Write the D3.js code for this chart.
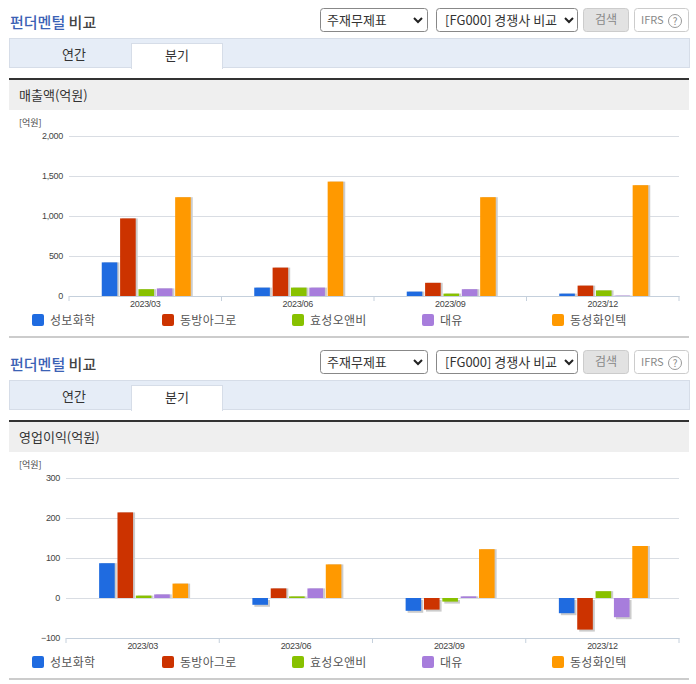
<!DOCTYPE html>
<html>
<head>
<meta charset="utf-8">
<script src="https://cdn.jsdelivr.net/npm/d3@7"></script>
<style>
html, body { margin: 0; padding: 0; background: #fff; }
text { font-family: "Noto Sans CJK KR", "Noto Sans", sans-serif; }
.tick text { font-family: "Liberation Sans", sans-serif; letter-spacing: -0.3px; }
</style>
</head>
<body>
<div id="chart"></div>
<script>
// Data
const periods = ["2023/03", "2023/06", "2023/09", "2023/12"];
const companies = ["성보화학", "동방아그로", "효성오앤비", "대유", "동성화인텍"];
const colors = ["#1f6be0", "#cc3300", "#88c100", "#a77ddc", "#ff9900"];

const sales2023_03 = [420, 970, 85, 95, 1235];
const sales2023_06 = [105, 355, 105, 105, 1430];
const sales2023_09 = [55, 165, 30, 85, 1235];
const sales2023_12 = [30, 130, 70, 5, 1385];

const profit2023_03 = [87, 214, 6, 9, 36];
const profit2023_06 = [-17, 24, 4, 24, 84];
const profit2023_09 = [-32, -29, -9, 4, 122];
const profit2023_12 = [-38, -79, 17, -48, 130];

const salesTicks = [0, 500, 1000, 1500, 2000];
const profitTicks = [-100, 0, 100, 200, 300];

const width = 696;
const height = 684;

const svg = d3.select("#chart")
    .append("svg")
    .attr("width", width)
    .attr("height", height)
    .style("display", "block");

function drawButton(g, x, y, w, h, fill, stroke) {
    g.append("rect")
        .attr("x", x + 0.5).attr("y", y + 0.5)
        .attr("width", w).attr("height", h)
        .attr("rx", 3)
        .attr("fill", fill)
        .attr("stroke", stroke);
}

function drawChevron(g, x, y) {
    g.append("path")
        .attr("d", `M${x - 4},${y - 2} L${x},${y + 2} L${x + 4},${y - 2}`)
        .attr("fill", "none")
        .attr("stroke", "#222")
        .attr("stroke-width", 2);
}

function drawPanel(top, label, rows, ticks, left, domain) {
    const g = svg.append("g").attr("transform", `translate(0,${top})`);

    // heading
    const title = g.append("text")
        .attr("x", 10).attr("y", 28)
        .attr("font-size", 15)
        .attr("font-weight", 500);
    title.append("tspan").attr("fill", "#3b62b5").text("펀더멘털");
    title.append("tspan").attr("fill", "#444").text(" 비교");

    // toolbar
    drawButton(g, 320, 8, 107, 23, "#fff", "#888");
    g.append("text").attr("x", 327).attr("y", 25).attr("font-size", 13).attr("fill", "#333").text("주재무제표");
    drawChevron(g, 418, 20);

    drawButton(g, 436, 8, 141, 23, "#fff", "#888");
    g.append("text").attr("x", 445).attr("y", 25).attr("font-size", 13).attr("fill", "#333").text("[FG000] 경쟁사 비교");
    drawChevron(g, 569, 20);

    drawButton(g, 583, 8, 45, 23, "#e2e2e2", "#ccc");
    g.append("text").attr("x", 606).attr("y", 24).attr("font-size", 12).attr("fill", "#888")
        .attr("text-anchor", "middle").text("검색");

    drawButton(g, 634, 8, 54, 23, "#fff", "#ccc");
    g.append("text").attr("x", 641).attr("y", 24).attr("font-size", 11).attr("fill", "#888").text("IFRS");
    g.append("circle").attr("cx", 675).attr("cy", 21).attr("r", 6.5)
        .attr("fill", "none").attr("stroke", "#999");
    g.append("text").attr("x", 675).attr("y", 25).attr("font-size", 10).attr("fill", "#888")
        .attr("text-anchor", "middle").text("?");

    // tabs
    g.append("rect").attr("x", 9.5).attr("y", 38.5).attr("width", 680).attr("height", 29)
        .attr("fill", "#e6edf7").attr("stroke", "#d6dde8");
    g.append("rect").attr("x", 131.5).attr("y", 43.5).attr("width", 91).attr("height", 25)
        .attr("fill", "#fff").attr("stroke", "#d6dde8");
    g.append("rect").attr("x", 132).attr("y", 66).attr("width", 90).attr("height", 3).attr("fill", "#fff");
    g.append("text").attr("x", 74).attr("y", 59).attr("font-size", 13).attr("fill", "#333")
        .attr("text-anchor", "middle").text("연간");
    g.append("text").attr("x", 177).attr("y", 60).attr("font-size", 13).attr("fill", "#333")
        .attr("text-anchor", "middle").text("분기");

    // section header
    g.append("rect").attr("x", 9).attr("y", 80).attr("width", 680).attr("height", 30)
        .attr("fill", "#efefef");
    g.append("rect").attr("x", 9).attr("y", 78).attr("width", 680).attr("height", 2)
        .attr("fill", "#333");
    g.append("text").attr("x", 19).attr("y", 100).attr("font-size", 13).attr("fill", "#333").text(label);

    g.append("text").attr("x", 19).attr("y", 126).attr("font-size", 9).attr("fill", "#444").text("[억원]");

    // plot
    const plotTop = 136;
    const plotBottom = 296;
    const right = 679;

    const xScale = d3.scaleBand()
        .domain(periods)
        .range([left, right]);

    // bars sit about 1px right of the band centre
    const barScale = d3.scaleBand()
        .domain(companies)
        .range([xScale.bandwidth() / 2 - 43.5, xScale.bandwidth() / 2 + 45.5])
        .paddingInner(0.15)
        .paddingOuter(0);

    const yScale = d3.scaleLinear()
        .domain(domain)
        .range([plotBottom, plotTop]);

    const yAxis = d3.axisLeft(yScale)
        .tickValues(ticks)
        .tickSize(-(right - left))
        .tickPadding(6)
        .tickFormat(d3.format(","));

    const yG = g.append("g")
        .attr("transform", `translate(${left},0)`)
        .call(yAxis);
    yG.select(".domain").remove();
    yG.selectAll(".tick line").attr("stroke", "#d9dde3");
    yG.selectAll(".tick text").attr("font-size", 9).attr("fill", "#444");

    const zero = yScale(0);

    rows.forEach((row, i) => {
        const group = g.append("g")
            .attr("transform", `translate(${xScale(periods[i])},0)`);

        // drop shadow first, then the bar on top
        group.selectAll(".shadow")
            .data(row)
            .enter()
            .append("rect")
            .attr("class", "shadow")
            .attr("x", (d, j) => barScale(companies[j]) + 2)
            .attr("y", d => Math.min(yScale(d), zero) + (d >= 0 ? 0 : 2))
            .attr("width", barScale.bandwidth())
            .attr("height", d => Math.abs(yScale(d) - zero))
            .attr("fill", "#ccc");

        group.selectAll(".bar")
            .data(row)
            .enter()
            .append("rect")
            .attr("class", "bar")
            .attr("x", (d, j) => barScale(companies[j]))
            .attr("y", d => Math.min(yScale(d), zero))
            .attr("width", barScale.bandwidth())
            .attr("height", d => Math.abs(yScale(d) - zero))
            .attr("fill", (d, j) => colors[j]);
    });

    // baseline with ticks along the bottom of the plot
    const xAxis = d3.axisBottom(xScale)
        .tickSizeInner(0)
        .tickSizeOuter(0)
        .tickPadding(5);

    const xG = g.append("g")
        .attr("transform", `translate(0,${plotBottom})`)
        .call(xAxis);
    xG.select(".domain").attr("stroke", "#c5d0dc");
    xG.selectAll(".tick text").attr("font-size", 9).attr("fill", "#444");

    xG.selectAll(".edge")
        .data(periods.concat("end"))
        .enter()
        .append("line")
        .attr("class", "edge")
        .attr("x1", d => d === "end" ? right : xScale(d))
        .attr("x2", d => d === "end" ? right : xScale(d))
        .attr("y1", 0)
        .attr("y2", 5)
        .attr("stroke", "#c5d0dc");

    // legend
    const legendX = d3.scalePoint()
        .domain(companies)
        .range([32, 552]);

    const legend = g.selectAll(".legend")
        .data(companies)
        .enter()
        .append("g")
        .attr("class", "legend")
        .attr("transform", d => `translate(${legendX(d)},314)`);

    legend.append("rect")
        .attr("width", 12).attr("height", 12).attr("rx", 2)
        .attr("fill", (d, i) => colors[i]);

    legend.append("text")
        .attr("x", 18).attr("y", 11)
        .attr("font-size", 12)
        .attr("letter-spacing", 0.3)
        .attr("fill", "#555")
        .text(d => d);

    g.append("rect").attr("x", 9).attr("y", 336).attr("width", 680).attr("height", 2).attr("fill", "#ccc");
}

drawPanel(0, "매출액(억원)",
    [sales2023_03, sales2023_06, sales2023_09, sales2023_12],
    salesTicks, 69, [0, 2000]);

drawPanel(342, "영업이익(억원)",
    [profit2023_03, profit2023_06, profit2023_09, profit2023_12],
    profitTicks, 66, [-100, 300]);
</script>
</body>
</html>
